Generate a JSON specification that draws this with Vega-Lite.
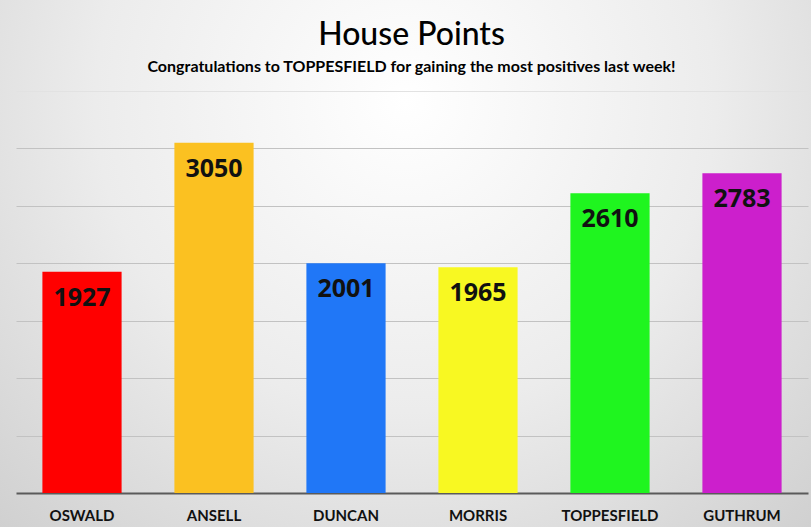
{
  "$schema": "https://vega.github.io/schema/vega-lite/v6.json",
  "width": 811,
  "height": 527,
  "padding": 0,
  "autosize": {"type": "none"},
  "background": "#d6d6d6",
  "title": {
    "text": "House Points",
    "subtitle": "Congratulations to TOPPESFIELD for gaining the most positives last week!",
    "anchor": "middle",
    "offset": -76,
    "dx": 6,
    "font": "Lato",
    "fontSize": 32,
    "fontWeight": 500,
    "color": "#000000",
    "subtitleFont": "Lato",
    "subtitleFontSize": 16,
    "subtitleFontWeight": "bold",
    "subtitleColor": "#000000",
    "subtitlePadding": 7
  },
  "config": {
    "view": {
      "stroke": null,
      "fill": {
        "gradient": "radial",
        "x1": 0.5, "y1": 0.3, "r1": 0,
        "x2": 0.5, "y2": 0.3, "r2": 0.85,
        "stops": [
          {"offset": 0, "color": "#ffffff"},
          {"offset": 0.45, "color": "#ececec"},
          {"offset": 1, "color": "#c6c6c6"}
        ]
      }
    }
  },
  "data": {
    "values": [
      {"house": "OSWALD", "points": 1927},
      {"house": "ANSELL", "points": 3050},
      {"house": "DUNCAN", "points": 2001},
      {"house": "MORRIS", "points": 1965},
      {"house": "TOPPESFIELD", "points": 2610},
      {"house": "GUTHRUM", "points": 2783}
    ]
  },
  "encoding": {
    "x": {
      "field": "house",
      "type": "nominal",
      "sort": null,
      "scale": {"range": [16, 808], "paddingInner": 0.4, "paddingOuter": 0.2},
      "axis": {
        "title": null,
        "orient": "bottom",
        "offset": -34,
        "domainColor": "#5a5a5a",
        "domainWidth": 2,
        "ticks": false,
        "grid": false,
        "labelAngle": 0,
        "labelFont": "Lato",
        "labelFontSize": 15,
        "labelFontWeight": "bold",
        "labelColor": "#111111",
        "labelPadding": 15
      }
    },
    "y": {
      "field": "points",
      "type": "quantitative",
      "scale": {"domain": [-296, 4292], "nice": false, "zero": false},
      "axis": {
        "title": null,
        "values": [500, 1000, 1500, 2000, 2500, 3000, 3500],
        "grid": true,
        "gridColor": {"condition": {"test": "datum.value === 3500", "value": "#e2e2e2"}, "value": "#c2c2c2"},
        "gridWidth": 1,
        "labels": false,
        "ticks": false,
        "domain": false
      }
    }
  },
  "layer": [
    {
      "mark": {"type": "bar"},
      "encoding": {
        "y2": {"datum": 0},
        "color": {
          "field": "house",
          "type": "nominal",
          "legend": null,
          "scale": {
            "domain": ["OSWALD", "ANSELL", "DUNCAN", "MORRIS", "TOPPESFIELD", "GUTHRUM"],
            "range": ["#ff0000", "#fbc121", "#2077f7", "#f8f822", "#1ff51f", "#cc1fcc"]
          }
        }
      }
    },
    {
      "mark": {
        "type": "text",
        "baseline": "middle",
        "dy": 26,
        "font": "Open Sans",
        "fontSize": 25,
        "fontWeight": "bold",
        "color": "#111111"
      },
      "encoding": {
        "text": {"field": "points", "type": "quantitative"}
      }
    }
  ]
}
